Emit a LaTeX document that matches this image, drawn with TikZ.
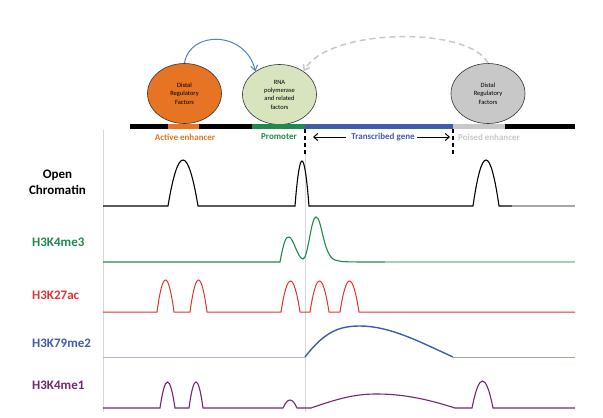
\documentclass[tikz,border=0pt]{standalone}
\usepackage{fontspec}
\setmainfont{Carlito}
\usetikzlibrary{arrows.meta,shapes.geometric}
\definecolor{enhOrange}{RGB}{230,116,34}
\definecolor{polGreen}{RGB}{215,228,189}
\definecolor{promGreen}{RGB}{30,138,76}
\definecolor{geneBlue}{RGB}{64,92,170}
\definecolor{poisGray}{RGB}{200,200,200}
\definecolor{arcBlue}{RGB}{79,129,189}
\definecolor{acRed}{RGB}{226,48,52}
\definecolor{meOnePurple}{RGB}{112,40,110}
\definecolor{axisGray}{RGB}{215,215,215}
\newcommand{\hump}[4]{-- (#1,#4) .. controls ({#1+0.34*(#2-#1)},{#4+(#3-#4)*4/3}) and ({#2-0.34*(#2-#1)},{#4+(#3-#4)*4/3}) .. (#2,#4)}

\begin{document}
\begin{tikzpicture}[x=1pt,y=-1pt,every node/.style={inner sep=0pt},
  factor/.style={draw=black!80,line width=.6pt,ellipse,minimum width=74pt,minimum height=60pt,align=center,font=\fontsize{6.5}{8.3}\selectfont},
  region/.style={font=\fontsize{9}{10}\bfseries},
  tlabel/.style={anchor=west,font=\fontsize{13}{16}\bfseries},
  track/.style={line width=1.1pt}]
\useasboundingbox (0,0) rectangle (603,418);
% axes
\draw[axisGray,line width=1pt] (103,130) -- (103,412);\draw[axisGray,line width=1pt] (305,153) -- (305,412);
% factors and loops
\node[factor,fill=enhOrange] (dist1) at (184.5,93.5) {Distal\\Regulatory\\Factors};
\node[factor,fill=polGreen] (rnap) at (279.5,94.5) {RNA\\polymerase\\and related\\factors};
\node[factor,fill=poisGray] (dist2) at (488,93.5) {Distal\\Regulatory\\Factors};
\draw[arcBlue,line width=1pt,-{Straight Barb[length=5pt,width=7pt]}] (dist1.north) .. controls +(5,-33) and +(-10,-41) .. (rnap.136);
\draw[poisGray,line width=1.5pt,dash pattern=on 6pt off 4pt,-{Straight Barb[length=5pt,width=7pt]}] (dist2.north) .. controls +(-18,-37) and +(25,-44) .. (rnap.44);
% chromosome
\foreach \a/\b/\c in {130/168/black,168/199/enhOrange,199/252/black,252/305/promGreen,305/453/geneBlue,453/505/poisGray,505/575/black}
  \draw[line width=5pt,\c] (\a,126.5) -- (\b,126.5);
\coordinate (tssTop) at (305,129);\coordinate (tssBot) at (305,154);
\coordinate (tesTop) at (453,129);\coordinate (tesBot) at (453,154);
\draw[line width=1.8pt,dash pattern=on 4pt off 3pt] (tssTop) -- (tssBot) (tesTop) -- (tesBot);
\node[region,text=enhOrange] (actlab) at (185,137) {Active enhancer};
\node[region,text=promGreen] (promlab) at (279,137) {Promoter};
\node[region,text=geneBlue] (genelab) at (383,137) {Transcribed gene};
\node[region,text=poisGray] (poislab) at (489,137) {Poised enhancer};
\coordinate (geneL) at (313,137);\coordinate (geneR) at (450,137);
\draw[line width=1pt,-{Straight Barb[length=4pt,width=7pt]}] ([xshift=-5pt]genelab.west) -- (geneL);
\draw[line width=1pt,-{Straight Barb[length=4pt,width=7pt]}] ([xshift=2pt]genelab.east) -- (geneR);
% tracks
\node[tlabel,anchor=center,align=center] (openlab) at (57.5,182) {Open\\Chromatin};
\draw[track,black] (103,206) \hump{168}{198}{160}{206} \hump{295}{309}{161}{206} \hump{473}{499}{160}{206} -- (512,206);
\draw[track,black!35] (512,206) -- (575,206);
\node[tlabel,text=promGreen] (me3lab) at (32,242) {H3K4me3};
\draw[track,promGreen] (103,262) -- (280,262) .. controls (284,240) and (286,237) .. (289,237) .. controls (293,237) and (298,259) .. (303,259) .. controls (308,259) and (311,217) .. (316,217) .. controls (322,217) and (323,256) .. (335,260) .. controls (342,262) .. (385,262);
\draw[track,promGreen!40] (385,262) -- (575,262);
\node[tlabel,text=acRed] (aclab) at (32,295) {H3K27ac};
\draw[track,acRed,line width=1pt] (103,312) \hump{157}{174}{280}{312} \hump{190}{207}{280}{312} \hump{281}{300}{281}{312} \hump{310}{329}{281}{312} \hump{340}{359}{281}{312} -- (575,312);
\node[tlabel,text=geneBlue] (me2lab) at (32,343) {H3K79me2};
\draw[geneBlue!45,line width=.9pt] (103,357) -- (305,357);
\draw[track,geneBlue,line width=1.4pt] (305,357) .. controls (325,331) and (340,326) .. (360,326) .. controls (390,326) and (420,342) .. (453,357);
\draw[geneBlue!55,line width=1pt] (453,357) -- (575,357);
\node[tlabel,text=meOnePurple] (me1lab) at (32,385) {H3K4me1};
\draw[track,meOnePurple] (103,408) \hump{160}{175}{382}{408} \hump{189}{203}{382}{408} \hump{283}{297}{400}{408} -- (311,408) .. controls (340,398) and (355,394) .. (377,394) .. controls (405,394) and (430,400) .. (455,408) \hump{472}{493}{381}{408} -- (575,408);
\end{tikzpicture}
\end{document}
